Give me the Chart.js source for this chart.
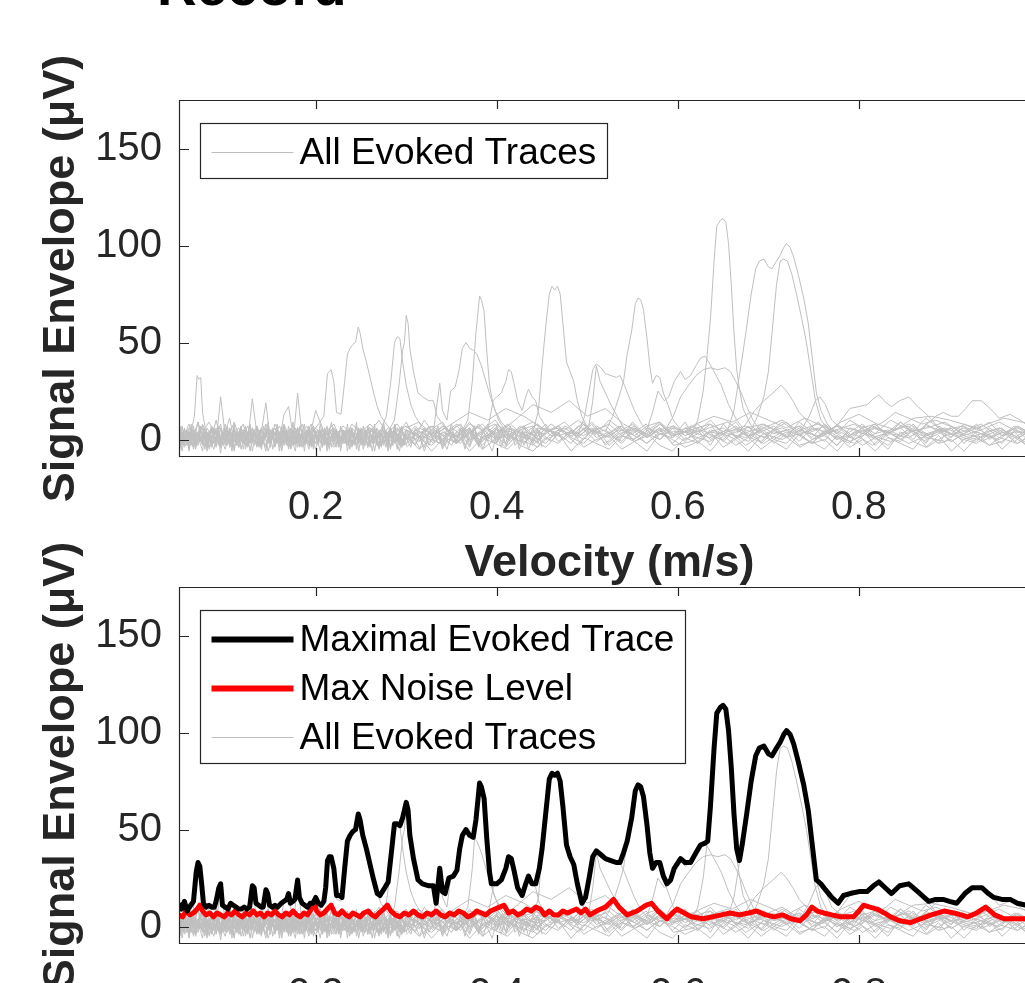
<!DOCTYPE html>
<html><head><meta charset="utf-8">
<script src="https://cdn.jsdelivr.net/npm/chart.js@4.4.1/dist/chart.umd.min.js"></script>
<style>
html,body{margin:0;padding:0;background:#fff;overflow:hidden;}
#wrap{position:relative;width:1025px;height:983px;overflow:hidden;background:#fff;}
#title{position:absolute;left:157px;top:-41px;font:bold 55px 'Liberation Sans',Arial,sans-serif;line-height:55px;color:#000;white-space:nowrap;}
canvas{position:absolute;left:0;}
#c1{top:0;}
#c2{top:487px;}
</style></head><body>
<div id="wrap">
<canvas id="c1" width="1060" height="600"></canvas>
<canvas id="c2" width="1060" height="600"></canvas>
<div id="title">Record</div>
</div>
<script>
// ---------- axes / labels ----------
const xTicks = [0.2, 0.4, 0.6, 0.8];
const yTicks = [0, 50, 100, 150];
const xRange = [0.049, 1.0];
const yRange = [-9, 175];
const xTitle = 'Velocity (m/s)';
const yTitle = 'Signal Envelope (μV)';
const legendTop = ['All Evoked Traces'];
const legendBottom = ['Maximal Evoked Trace', 'Max Noise Level', 'All Evoked Traces'];

// ---------- noise traces, full range (shared velocity samples) ----------
const noiseVel = [
0.050,0.055,0.060,0.065,0.070,0.075,0.080,0.085,0.090,0.095,0.100,0.105,0.110,0.115,0.120,0.125,0.130,0.135,0.140,0.145,0.150,0.155,0.160,0.165,0.170,0.175,0.180,0.185,0.190,0.195,0.200,
0.21,0.22,0.23,0.24,0.25,0.26,0.27,0.28,0.29,0.30,0.31,0.32,0.33,0.34,0.35,0.36,0.37,0.38,0.39,0.40,
0.415,0.43,0.445,0.46,0.475,0.49,0.505,0.52,0.535,0.55,0.565,0.58,0.595,
0.615,0.635,0.655,0.675,0.695,0.715,0.735,0.755,0.775,0.795,0.815,0.835,0.855,0.875,0.895,0.915,0.935,0.955,0.975,0.995];
const noise1 = [3,-2,6,1,-3,4,0,7,-1,22,2,-2,5,0,3,-4,6,1,-1,8,0,4,-2,5,1,-3,6,0,3,-1,4,
2,6,1,-2,4,8,3,0,5,2,7,1,4,-1,6,3,9,2,5,1,
6,3,8,2,5,10,4,7,1,6,3,8,2,
5,8,3,1,6,10,4,2,7,5,1,4,8,3,6,2,5,9,4,3];
const noise2 = [-1,5,2,-4,3,7,-2,4,1,-3,6,2,-1,4,8,0,21,3,-2,2,5,-3,1,6,0,4,-2,3,7,1,-2,
4,0,7,3,-2,5,1,6,2,9,0,4,7,2,-3,5,1,8,3,0,
3,7,0,5,9,2,6,-2,4,8,1,5,7,
2,-1,4,7,3,0,5,8,2,-2,6,3,1,7,4,0,3,6,1,5];
const noise3 = [7,0,4,2,9,1,-2,5,3,0,8,-1,3,6,-2,2,5,0,4,19,-1,3,7,1,-3,5,2,8,0,4,6,
1,-4,3,6,0,4,10,2,-1,5,3,0,6,9,2,-2,4,7,1,6,
-1,4,2,8,3,-3,5,2,7,0,4,9,3,
7,3,-2,5,1,9,3,6,-3,4,2,10,5,1,-1,6,3,0,7,2];
const noise4 = [1,3,-3,5,2,-1,6,1,10,0,-2,5,1,-4,2,7,0,3,-2,4,2,6,0,13,17,2,-1,4,2,8,1,
5,2,-1,8,3,6,1,-2,4,7,2,10,3,0,5,8,-1,3,6,2,
8,2,5,-1,7,3,9,1,5,3,8,0,6,
3,6,9,2,-2,4,7,1,5,8,2,-1,4,6,9,3,1,5,-2,4];
const noise5 = [-3,2,8,0,4,-2,3,-4,6,2,4,11,-1,3,5,-3,2,7,1,-4,5,-1,3,8,2,-2,24,1,5,-3,3,
-2,3,5,-1,2,6,-3,4,8,1,-2,5,2,7,3,1,6,-2,4,8,
2,-2,6,4,0,7,3,5,-1,9,2,6,-3,
-1,4,2,6,8,3,-4,2,5,0,7,3,-2,2,5,7,-1,3,6,1];
const noise6 = [5,-4,1,3,-1,8,2,-3,4,1,-5,3,9,2,-2,4,1,-3,6,2,-2,8,3,-1,4,1,6,-2,2,5,15,
3,8,-2,1,5,3,-4,2,6,0,5,3,-2,4,1,6,3,-3,2,5,
4,1,-4,3,6,1,8,-3,3,5,-2,3,4,
4,1,5,-3,3,6,2,9,0,3,-3,5,7,-4,2,4,8,1,-2,3];

// ---------- noise traces, slow part (dense samples) ----------
const noiseVelL = [
0.05,0.0525,0.055,0.0575,0.06,0.0625,0.065,0.0675,0.07,0.0725,
0.075,0.0775,0.08,0.0825,0.085,0.0875,0.09,0.0925,0.095,0.0975,
0.1,0.1025,0.105,0.1075,0.11,0.1125,0.115,0.1175,0.12,0.1225,
0.125,0.1275,0.13,0.1325,0.135,0.1375,0.14,0.1425,0.145,0.1475,
0.15,0.1525,0.155,0.1575,0.16,0.1625,0.165,0.1675,0.17,0.1725,
0.175,0.1775,0.18,0.1825,0.185,0.1875,0.19,0.1925,0.195,0.1975,
0.2,0.2025,0.205,0.2075,0.21,0.2125,0.215,0.2175,0.22,0.2225,
0.225,0.2275,0.23,0.2325,0.235,0.2375,0.24,0.2425,0.245,0.2475,
0.25,0.2525,0.255,0.2575,0.26,0.2625,0.265,0.2675,0.27,0.2725,
0.275,0.2775,0.28,0.2825,0.285,0.2875,0.29,0.2925,0.295,0.2975,
0.3];
const slow1 = [2,-3,5,0,-2,6,1,-4,3,7,-1,4,-3,2,6,-2,1,5,-4,3,0,7,-2,2,-5,4,1,6,-1,3,-3,5,2,-2,7,0,-4,3,1,6,-2,4,-1,5,2,-3,6,0,3,-4,5,1,-2,7,2,-1,4,-3,6,1,-2,3,5,-4,2,7,0,-1,4,2,-3,6,1,-2,5,3,-4,2,7,-1,4,0,-3,6,2,-2,5,1,-4,3,7,-1,2,5,-3,4,1,-2,6,0,3];
const slow2 = [-4,1,6,-2,3,0,5,-3,2,-1,6,1,-4,3,5,-2,0,7,-3,2,4,-1,3,-4,6,2,-2,5,0,-3,4,7,-1,2,-3,5,1,-2,6,3,-4,2,0,5,-2,3,7,-1,-4,4,1,-3,6,0,3,-2,5,2,-4,7,1,-2,4,0,6,-3,2,5,-1,3,0,-4,5,2,-2,6,1,3,-3,4,-1,7,2,-3,4,0,-2,6,3,-4,2,5,-1,3,-3,6,0,4,-2,1,5];
const slow3 = [1,4,-1,3,-5,2,7,0,-2,5,2,-3,4,0,-1,6,3,-2,1,4,-3,2,6,1,-1,3,-4,5,2,7,0,-2,4,-3,3,1,6,-1,-3,2,5,0,-2,6,-4,1,3,-1,7,2,-3,4,0,-1,5,-3,2,6,1,-2,4,-3,1,6,-2,0,3,-4,5,1,2,-2,4,0,-3,1,6,-2,0,3,5,-2,1,-4,3,6,0,2,-3,5,-2,1,4,-4,2,7,-1,3,1,-3,2];
const slow4 = [6,-1,2,-3,4,1,-5,3,0,6,-2,3,1,-4,2,5,-1,0,6,-3,2,-1,4,0,7,-3,2,-1,5,1,-2,0,6,3,-4,2,-1,4,0,-2,3,6,-3,1,4,-2,0,5,-1,3,-2,6,1,-4,0,3,-1,7,-2,2,5,-1,3,-2,0,4,-3,1,6,-2,3,1,-1,5,0,-3,4,-2,1,6,-3,2,5,0,-2,3,-1,4,1,-3,5,0,-4,2,4,-2,3,-3,6,1,-1];
const slow5 = [-2,3,0,4,1,-3,2,5,-1,0,3,-5,2,4,-2,1,5,-3,0,2,-1,4,1,-3,3,0,-2,2,4,-5,1,3,-1,5,0,-3,2,-1,4,1,-2,5,3,-1,0,-3,4,2,-2,6,0,-1,3,-3,5,1,-2,4,0,-3,2,5,-2,1,3,-4,6,2,-1,0,4,-2,3,1,-1,5,-3,0,2,6,1,-3,4,2,-1,0,5,-2,3,-1,0,4,-3,6,1,-2,3,0,-4,2,4];
const slow6 = [-5,1,-3,4,-6,0,3,-4,2,-2,-6,3,-1,-5,1,4,-3,0,-7,2,-2,5,-4,0,-6,2,-1,3,-5,1,-3,4,-6,0,2,-4,5,-2,-6,1,3,-5,0,-2,4,-6,1,-3,2,-5,0,4,-4,-1,2,-6,3,-2,0,-5,4,-1,-6,2,-3,1,-5,3,0,-4,2,-6,1,-2,4,-5,0,-3,3,-6,1,-2,5,-4,0,-6,2,-1,-5,3,-3,0,-6,4,-2,1,-5,2,-4,0,-3];
const slow7 = [1,-6,2,-2,-4,5,-1,-5,3,0,-3,2,-6,4,-2,-5,1,3,-4,-1,5,-3,0,-6,3,-2,4,-5,0,-3,2,-6,1,4,-3,-1,-5,2,0,-6,-2,3,-4,1,-6,2,-3,5,-5,0,-2,-6,3,1,-4,2,-1,-5,4,-2,-5,1,0,-4,4,-6,-1,2,-3,5,-4,0,-2,3,-6,1,-3,4,-5,-1,2,-5,-1,3,-4,2,-6,0,4,-3,1,-4,2,-5,0,3,-2,-6,1,-3,2];
const slow8 = [3,7,-2,5,0,8,-3,4,9,1,-2,6,3,-1,7,2,-4,5,8,0,4,-2,6,1,8,-3,3,7,-1,5,2,8,-2,4,6,0,-3,7,3,9,-1,5,2,8,-2,4,7,-1,5,2,9,-3,6,1,4,8,-2,5,0,7,3,-1,8,2,6,-3,4,9,1,5,-2,7,3,0,8,-1,5,2,9,-2,6,3,-1,7,4,0,8,-3,5,2,9,1,-2,6,3,8,-1,4,7,0,5];

// ---------- noise traces, middle part ----------
const noiseVelM = [0.3,0.305,0.31,0.315,0.32,0.325,0.33,0.335,0.34,0.345,0.35,0.355,0.36,0.365,0.37,0.375,0.38,0.385,0.39,0.395,0.4,0.405,0.41,0.415,0.42,0.425,0.43,0.435,0.44,0.445,0.45];
const mid1 = [3,-2,6,1,-4,4,0,7,-3,2,5,-1,3,-5,6,1,-2,4,8,-1,2,-4,5,0,3,-3,7,1,-2,4,0];
const mid2 = [-3,5,0,-5,3,7,-1,2,-4,6,0,-2,5,-3,1,7,-4,2,0,5,-2,6,-3,1,4,-5,2,0,6,-1,3];
const mid3 = [1,-4,4,-1,6,-3,2,5,-5,0,8,-2,1,4,-3,6,0,-5,3,1,7,-2,-4,3,0,5,-3,2,-1,6,-4];
const mid4 = [5,0,-3,2,-6,1,4,-2,0,-5,3,-1,6,0,-4,2,-3,5,-1,-6,3,1,-2,7,-3,0,4,-5,1,-2,2];

// ---------- noise traces, fast part ----------
const noiseVelR = [
0.3,0.314,0.328,0.342,0.356,0.37,0.384,0.398,0.412,0.426,
0.44,0.454,0.468,0.482,0.496,0.51,0.524,0.538,0.552,0.566,
0.58,0.594,0.608,0.622,0.636,0.65,0.664,0.678,0.692,0.706,
0.72,0.734,0.748,0.762,0.776,0.79,0.804,0.818,0.832,0.846,
0.86,0.874,0.888,0.902,0.916,0.93,0.944,0.958,0.972,0.986,
1.0];
const fast1 = [3,-1,5,2,7,0,4,-2,6,3,1,8,-1,4,2,6,-3,3,7,1,5,-2,4,8,2,0,6,3,-1,5,9,2,-2,4,7,1,5,-3,3,6,0,8,4,-1,3,6,2,-2,5,3,1];
const fast2 = [-2,4,1,6,-1,3,8,2,-3,5,7,0,3,-2,6,4,1,7,-1,2,8,3,-1,6,0,4,9,1,5,-2,3,7,0,2,-3,6,4,8,1,-1,5,3,-2,7,2,0,4,6,-1,4,2];
const fast3 = [5,1,-3,3,8,4,-1,6,0,7,2,-2,5,3,9,1,4,-1,6,3,0,7,2,5,-3,8,1,4,6,0,-2,5,3,-1,8,2,6,0,4,9,3,-1,5,1,7,3,-3,2,6,0,4];
const fast4 = [1,6,3,-2,4,0,5,8,2,-1,4,3,7,1,-2,5,8,2,0,6,3,1,9,-2,4,6,2,-1,7,3,5,-1,6,4,1,-2,7,3,5,2,8,0,3,6,-2,4,1,5,2,-2,3];
const fast5 = [7,2,0,4,-2,5,1,3,8,0,-3,4,6,2,5,-1,3,7,2,-2,4,6,0,3,8,-1,5,2,4,7,1,3,-2,5,0,4,8,1,-3,3,6,2,5,-1,3,8,0,4,1,5,-1];
const fast6 = [0,3,7,-1,2,6,-3,4,1,5,-1,6,2,4,0,7,3,-2,5,1,6,2,4,-1,5,3,0,7,-2,4,2,6,1,8,3,-1,2,6,4,0,5,-2,7,3,1,-1,6,2,4,3,0];
const fast7 = [-4,2,-6,1,-2,4,-5,0,3,-3,-6,1,-2,5,-4,0,2,-5,-1,3,-3,-6,1,-2,4,-4,0,-6,2,-1,-5,3,-2,0,-6,2,-3,1,-5,4,-1,-4,2,-6,0,-2,3,-5,1,-3,0];
const fast8 = [2,-5,0,-3,3,-6,1,-2,-5,2,0,-4,3,-6,1,-2,-5,2,-1,-6,3,0,-4,-1,-6,2,-3,1,-5,0,4,-3,-1,-5,2,-4,0,-6,1,-2,-5,3,-2,0,-6,1,-3,-1,4,-4,-2];
const fast9 = [6,9,3,7,1,8,5,10,2,6,9,4,7,1,8,3,10,5,2,7,9,1,6,4,10,3,7,2,8,5,1,9,4,7,3,10,6,8,2,9,4,11,6,3,8,5,9,2,7,4,6];

// ---------- evoked traces [velocity, envelope] ----------
const evt1 = [[0.05,2],[0.058,5],[0.062,3],[0.066,12],[0.069,33],[0.071,31],[0.073,32],[0.075,14],[0.078,6],[0.082,9],[0.088,4],[0.095,6],[0.10,2]];
const evt2 = [[0.195,3],[0.203,8],[0.209,12],[0.213,34],[0.217,36],[0.220,30],[0.223,14],[0.228,13],[0.232,30],[0.235,44],[0.238,47],[0.241,49],[0.244,50],[0.247,58],[0.249,55],[0.252,47],[0.256,40],[0.260,32],[0.264,24],[0.268,17],[0.272,12],[0.278,8],[0.285,4],[0.295,6],[0.31,2]];
const evt3 = [[0.27,3],[0.278,12],[0.283,30],[0.287,50],[0.290,53],[0.293,52],[0.296,40],[0.300,28],[0.305,18],[0.310,12],[0.318,6],[0.33,2]];
const evt4 = [[0.28,4],[0.287,10],[0.292,28],[0.296,46],[0.298,50],[0.300,64],[0.302,60],[0.304,47],[0.308,35],[0.313,24],[0.318,22],[0.325,20],[0.330,20],[0.334,12],[0.340,8],[0.35,3]];
const evt5 = [[0.33,4],[0.337,29],[0.340,15],[0.345,10],[0.349,25],[0.354,27],[0.358,35],[0.362,47],[0.366,50],[0.370,47],[0.374,46],[0.378,44],[0.383,38],[0.388,30],[0.393,22],[0.398,15],[0.405,9],[0.415,4]];
const evt6 = [[0.36,3],[0.368,10],[0.373,30],[0.377,55],[0.381,74],[0.383,72],[0.386,66],[0.389,45],[0.392,28],[0.396,18],[0.402,10],[0.41,4]];
const evt7 = [[0.39,5],[0.396,20],[0.400,22],[0.405,24],[0.410,30],[0.413,36],[0.416,35],[0.419,29],[0.423,20],[0.428,15],[0.432,22],[0.435,26],[0.439,22],[0.443,20],[0.447,12],[0.455,6],[0.465,2]];
const evt8 = [[0.44,4],[0.446,15],[0.450,38],[0.454,58],[0.458,75],[0.461,79],[0.464,77],[0.467,79],[0.470,75],[0.473,60],[0.477,40],[0.481,35],[0.485,30],[0.489,20],[0.494,12],[0.50,6],[0.51,2]];
const evt9 = [[0.49,3],[0.497,12],[0.502,25],[0.506,36],[0.510,39],[0.515,37],[0.520,34],[0.526,33],[0.532,32],[0.536,33],[0.541,28],[0.546,22],[0.552,15],[0.56,8],[0.57,3]];
const evt10 = [[0.50,2],[0.506,20],[0.510,38],[0.514,30],[0.520,24],[0.526,18],[0.533,12],[0.54,6]];
const evt11 = [[0.52,4],[0.528,12],[0.535,22],[0.540,30],[0.544,44],[0.549,56],[0.553,70],[0.556,73],[0.559,72],[0.562,67],[0.566,52],[0.569,38],[0.572,29],[0.576,33],[0.580,32],[0.584,24],[0.589,18],[0.595,10],[0.605,4]];
const evt12 = [[0.565,4],[0.572,14],[0.578,25],[0.585,20],[0.590,22],[0.596,30],[0.603,35],[0.608,31],[0.614,33],[0.620,38],[0.625,42],[0.630,43],[0.634,40],[0.640,35],[0.648,28],[0.656,18],[0.665,10],[0.675,4]];
const evt13 = [[0.615,3],[0.622,10],[0.628,25],[0.632,42],[0.636,62],[0.640,92],[0.643,110],[0.647,113],[0.650,114],[0.653,112],[0.656,101],[0.659,80],[0.662,55],[0.665,36],[0.668,26],[0.672,16],[0.68,8],[0.69,3]];
const evt14 = [[0.655,5],[0.662,15],[0.667,30],[0.671,42],[0.676,58],[0.681,75],[0.686,88],[0.690,92],[0.695,93],[0.700,89],[0.704,88],[0.709,92],[0.713,95],[0.717,99],[0.720,101],[0.724,99],[0.728,94],[0.733,85],[0.739,73],[0.744,60],[0.749,40],[0.753,24],[0.758,15],[0.765,8],[0.775,3]];
const evt15 = [[0.68,4],[0.688,12],[0.695,22],[0.700,35],[0.705,60],[0.709,80],[0.713,92],[0.717,93],[0.721,92],[0.726,85],[0.731,75],[0.737,62],[0.742,50],[0.747,35],[0.752,20],[0.758,10],[0.77,3]];
const evt16 = [[0.585,4],[0.595,12],[0.603,22],[0.612,28],[0.620,33],[0.628,36],[0.636,37],[0.644,36],[0.652,37],[0.658,35],[0.664,30],[0.670,24],[0.676,17],[0.683,10],[0.692,4]];
const evt17 = [[0.665,3],[0.675,8],[0.685,15],[0.695,20],[0.705,24],[0.714,28],[0.720,25],[0.727,20],[0.734,14],[0.742,10],[0.750,6],[0.76,2]];
const evt18 = [[0.735,4],[0.745,12],[0.752,20],[0.757,22],[0.763,18],[0.770,10],[0.780,6],[0.79,3]];
const evt19 = [[0.765,3],[0.777,8],[0.790,16],[0.800,17],[0.809,18],[0.816,21],[0.822,23],[0.830,19],[0.836,17],[0.845,20],[0.855,22],[0.865,17],[0.877,12],[0.888,6],[0.90,3]];
const evt20 = [[0.86,2],[0.875,8],[0.885,12],[0.893,14],[0.902,12],[0.910,12],[0.918,16],[0.925,20],[0.935,20],[0.945,16],[0.955,11],[0.967,13],[0.978,10],[0.99,6],[1.0,5]];
const evt21 = [[0.80,2],[0.815,6],[0.83,10],[0.84,14],[0.85,12],[0.87,8],[0.885,10],[0.90,7],[0.92,4]];
const evt22 = [[0.40,3],[0.42,10],[0.44,18],[0.46,14],[0.48,20],[0.50,12],[0.52,16],[0.54,8],[0.56,3]];
const evt23 = [[0.33,2],[0.35,8],[0.37,14],[0.39,10],[0.41,16],[0.43,12],[0.45,6],[0.47,3]];
const evt24 = [[0.60,2],[0.62,8],[0.64,12],[0.66,9],[0.68,14],[0.70,10],[0.72,6],[0.74,11],[0.76,7],[0.78,3]];
const evt25 = [[0.76,2],[0.78,9],[0.80,13],[0.82,8],[0.84,5],[0.86,11],[0.88,12],[0.90,10],[0.93,6],[0.96,11],[0.98,9],[1.0,7]];

// ---------- maximal evoked trace ----------
const maxTrace = [[0.049,12],[0.052,9],[0.055,13],[0.058,8],[0.062,11],[0.065,13],[0.068,28],[0.070,33],[0.072,31],[0.074,22],[0.076,12],[0.079,10],[0.082,11],[0.085,10],[0.088,10],[0.090,13],[0.093,20],[0.095,22],[0.097,11],[0.100,10],[0.103,9],[0.106,12],[0.109,11],[0.112,10],[0.115,9],[0.118,9],[0.121,10],[0.124,9],[0.127,10],[0.130,21],[0.132,20],[0.134,12],[0.137,11],[0.140,10],[0.142,10],[0.145,19],[0.147,17],[0.149,11],[0.152,10],[0.155,11],[0.158,10],[0.162,12],[0.165,13],[0.168,14],[0.170,17],[0.172,12],[0.175,13],[0.177,14],[0.180,24],[0.182,15],[0.185,12],[0.188,11],[0.191,10],[0.194,12],[0.197,12],[0.200,15],[0.203,12],[0.206,11],[0.209,13],[0.211,20],[0.213,34],[0.215,36],[0.217,36],[0.220,30],[0.223,16],[0.226,16],[0.229,15],[0.232,30],[0.235,44],[0.238,47],[0.241,49],[0.244,50],[0.247,58],[0.249,55],[0.252,47],[0.256,40],[0.260,32],[0.264,24],[0.268,17],[0.271,16],[0.275,19],[0.280,23],[0.284,40],[0.287,53],[0.290,53],[0.293,52],[0.296,56],[0.298,60],[0.300,64],[0.302,60],[0.304,47],[0.308,35],[0.313,24],[0.318,22],[0.325,21],[0.330,21],[0.333,12],[0.337,30],[0.340,18],[0.343,17],[0.347,25],[0.352,26],[0.356,29],[0.359,40],[0.362,47],[0.366,50],[0.370,47],[0.374,46],[0.377,55],[0.381,74],[0.383,72],[0.386,66],[0.389,45],[0.392,28],[0.394,22],[0.400,22],[0.405,24],[0.410,30],[0.413,36],[0.416,35],[0.419,29],[0.423,20],[0.428,16],[0.432,22],[0.435,26],[0.439,22],[0.443,22],[0.447,30],[0.450,40],[0.454,58],[0.458,76],[0.461,79],[0.464,78],[0.467,79],[0.470,75],[0.473,62],[0.477,42],[0.481,36],[0.485,32],[0.489,22],[0.494,12],[0.498,15],[0.502,25],[0.506,36],[0.510,39],[0.515,37],[0.520,35],[0.526,34],[0.532,33],[0.536,33],[0.540,38],[0.544,44],[0.549,56],[0.553,70],[0.556,73],[0.559,72],[0.562,67],[0.566,52],[0.569,38],[0.572,30],[0.576,33],[0.580,33],[0.584,26],[0.588,22],[0.592,24],[0.596,30],[0.603,35],[0.608,33],[0.614,33],[0.620,38],[0.625,42],[0.630,43],[0.633,44],[0.636,62],[0.640,92],[0.643,110],[0.647,113],[0.650,114],[0.653,112],[0.656,101],[0.659,82],[0.662,58],[0.665,40],[0.668,34],[0.671,42],[0.676,58],[0.681,75],[0.686,88],[0.690,92],[0.695,93],[0.700,89],[0.704,88],[0.709,92],[0.713,95],[0.717,99],[0.720,101],[0.724,99],[0.728,94],[0.733,85],[0.739,73],[0.744,60],[0.749,40],[0.753,24],[0.758,22],[0.763,19],[0.770,15],[0.777,12],[0.783,16],[0.790,17],[0.800,18],[0.809,18],[0.816,21],[0.822,23],[0.829,20],[0.836,17],[0.845,21],[0.855,22],[0.865,18],[0.877,13],[0.885,14],[0.893,14],[0.900,13],[0.908,12],[0.917,17],[0.925,20],[0.936,20],[0.943,17],[0.949,15],[0.958,14],[0.967,14],[0.975,12],[0.985,11],[1.0,10]];

// ---------- max noise level ----------
const noiseLevel = [[0.049,6],[0.053,5],[0.057,8],[0.061,6],[0.065,7],[0.069,9],[0.072,11],[0.075,8],[0.079,6],[0.083,7],[0.087,5],[0.091,7],[0.095,6],[0.099,5],[0.103,7],[0.107,6],[0.111,8],[0.115,6],[0.119,5],[0.123,7],[0.127,6],[0.131,8],[0.135,6],[0.139,7],[0.143,5],[0.147,7],[0.151,6],[0.155,8],[0.159,6],[0.163,5],[0.167,7],[0.171,6],[0.175,8],[0.179,6],[0.183,5],[0.187,7],[0.191,6],[0.195,9],[0.198,13],[0.201,8],[0.205,6],[0.209,7],[0.213,9],[0.217,11],[0.221,7],[0.225,6],[0.229,8],[0.233,6],[0.237,5],[0.241,7],[0.245,6],[0.249,5],[0.253,7],[0.258,8],[0.262,6],[0.266,5],[0.270,7],[0.275,9],[0.279,11],[0.283,8],[0.288,6],[0.293,5],[0.298,7],[0.303,6],[0.308,8],[0.313,6],[0.318,5],[0.323,7],[0.328,6],[0.333,8],[0.338,6],[0.343,5],[0.348,7],[0.353,6],[0.358,8],[0.363,7],[0.368,5],[0.373,6],[0.378,8],[0.383,7],[0.388,6],[0.393,8],[0.398,9],[0.403,10],[0.408,11],[0.413,7],[0.418,8],[0.423,6],[0.428,7],[0.433,9],[0.438,8],[0.443,10],[0.448,9],[0.453,6],[0.458,8],[0.463,6],[0.468,6],[0.473,8],[0.478,7],[0.483,8],[0.488,9],[0.493,7],[0.498,9],
[0.503,6],[0.510,8],[0.520,10],[0.529,14],[0.535,10],[0.544,6],[0.555,8],[0.565,11],[0.571,12],[0.578,8],[0.588,4],[0.594,7],[0.599,9],[0.607,7],[0.615,5],[0.628,4],[0.638,5],[0.648,6],[0.658,7],[0.668,6],[0.678,7],[0.687,8],[0.697,6],[0.706,5],[0.716,6],[0.725,4],[0.735,3],[0.742,6],[0.748,10],[0.754,8],[0.761,7],[0.770,6],[0.780,5],[0.794,5],[0.800,8],[0.805,11],[0.812,10],[0.820,9],[0.828,7],[0.835,5],[0.845,3],[0.857,2],[0.868,4],[0.880,6],[0.894,8],[0.905,7],[0.920,5],[0.930,7],[0.940,10],[0.950,6],[0.960,4],[0.970,4],[0.982,4],[1.0,4]];

// ---------- rendering ----------
const FONT = "'Liberation Sans', Arial, Helvetica, sans-serif";
const AXC = '#262626';
const GRAY = 'rgb(191,191,191)';
const BLACK = '#000000';
const RED = '#ff0000';

const gridSets = [
  [noiseVel, [noise1, noise2, noise3, noise4, noise5, noise6]],
  [noiseVelL, [slow1, slow2, slow3, slow4, slow5, slow6, slow7, slow8]],
  [noiseVelM, [mid1, mid2, mid3, mid4]],
  [noiseVelR, [fast1, fast2, fast3, fast4, fast5, fast6, fast7, fast8, fast9]]
];
const eventSets = [evt1,evt2,evt3,evt4,evt5,evt6,evt7,evt8,evt9,evt10,evt11,evt12,evt13,evt14,evt15,evt16,evt17,evt18,evt19,evt20,evt21,evt22,evt23,evt24,evt25];

const toPts = arr => arr.map(p => ({x: p[0], y: p[1]}));
const onGrid = (xs, ys) => ys.map((y, i) => ({x: xs[i], y: y}));

function grayDatasets() {
  const out = [];
  gridSets.forEach(([xs, sets]) => sets.forEach(ys => out.push({data: onGrid(xs, ys), borderColor: GRAY, borderWidth: 1})));
  eventSets.forEach(e => out.push({data: toPts(e), borderColor: GRAY, borderWidth: 1}));
  return out;
}

const axesPlugin = {
  id: 'mAxes',
  afterDatasetsDraw(chart) {
    const {ctx, chartArea: a, scales: {x, y}} = chart;
    ctx.save();
    ctx.strokeStyle = AXC;
    ctx.lineWidth = 1.2;
    ctx.beginPath();
    ctx.rect(a.left + 0.5, a.top + 0.5, a.right - a.left - 1, a.bottom - a.top - 1);
    xTicks.forEach(v => {
      const px = Math.round(x.getPixelForValue(v)) + 0.5;
      ctx.moveTo(px, a.bottom); ctx.lineTo(px, a.bottom - 9);
      ctx.moveTo(px, a.top); ctx.lineTo(px, a.top + 9);
    });
    yTicks.forEach(v => {
      const py = Math.round(y.getPixelForValue(v)) + 0.5;
      ctx.moveTo(a.left, py); ctx.lineTo(a.left + 10, py);
      ctx.moveTo(a.right, py); ctx.lineTo(a.right - 10, py);
    });
    ctx.stroke();
    ctx.restore();
  }
};

const legendPlugin = {
  id: 'mLegend',
  afterDraw(chart, args, opts) {
    const items = opts.items;
    if (!items || !items.length) return;
    const {ctx, chartArea: a} = chart;
    ctx.save();
    ctx.font = '37px ' + FONT;
    const tw = Math.max(...items.map(it => ctx.measureText(it.label).width));
    const bx = Math.round(a.left + 21) + 0.5, by = Math.round(a.top + 23) + 0.5;
    const bw = Math.round(99 + tw + 11), bh = 55 + (items.length - 1) * 49;
    ctx.fillStyle = '#fff';
    ctx.fillRect(bx, by, bw, bh);
    ctx.strokeStyle = AXC; ctx.lineWidth = 1.2;
    ctx.strokeRect(bx, by, bw, bh);
    items.forEach((it, i) => {
      const cy = by + 29 + i * 49;
      ctx.strokeStyle = it.color; ctx.lineWidth = it.width; ctx.lineCap = 'butt';
      ctx.beginPath(); ctx.moveTo(bx + 11, cy); ctx.lineTo(bx + 93, cy); ctx.stroke();
      ctx.fillStyle = '#000'; ctx.textBaseline = 'middle'; ctx.textAlign = 'left';
      ctx.fillText(it.label, bx + 99, cy + 1);
    });
    ctx.restore();
  }
};

function makeChart(id, datasets, legendItems) {
  return new Chart(document.getElementById(id), {
    type: 'line',
    data: {datasets: datasets},
    options: {
      responsive: false, animation: false, devicePixelRatio: 1, parsing: false, normalized: true,
      events: [],
      layout: {padding: {left: 0, top: 100, right: 20, bottom: 0}},
      elements: {point: {radius: 0, hoverRadius: 0}, line: {tension: 0, borderJoinStyle: 'round', fill: false}},
      plugins: {legend: {display: false}, tooltip: {enabled: false}, title: {display: false},
                mLegend: {items: legendItems}},
      scales: {
        x: {
          type: 'linear', min: xRange[0], max: xRange[1],
          afterFit: s => { s.height = 143; },
          afterBuildTicks: s => { s.ticks = xTicks.map(v => ({value: v})); },
          grid: {display: false, drawTicks: false}, border: {display: false},
          ticks: {font: {family: FONT, size: 40}, color: AXC, padding: 27, maxRotation: 0, autoSkip: false,
                  callback: v => v.toFixed(1)},
          title: {display: true, text: xTitle, color: AXC, font: {family: FONT, size: 45, weight: 'bold'},
                  padding: {top: 0, bottom: 9}}
        },
        y: {
          type: 'linear', min: yRange[0], max: yRange[1],
          afterFit: s => { s.width = 179; },
          afterBuildTicks: s => { s.ticks = yTicks.map(v => ({value: v})); },
          grid: {display: false, drawTicks: false}, border: {display: false},
          ticks: {font: {family: FONT, size: 40}, color: AXC, padding: 17, autoSkip: false,
                  callback: v => String(v)},
          title: {display: true, text: yTitle, color: AXC, font: {family: FONT, size: 45, weight: 'bold'},
                  padding: {top: 35, bottom: 0}}
        }
      }
    },
    plugins: [axesPlugin, legendPlugin]
  });
}

makeChart('c1', grayDatasets(), [{label: legendTop[0], color: GRAY, width: 1}]);

makeChart('c2', [
  {data: toPts(maxTrace), borderColor: BLACK, borderWidth: 5},
  {data: toPts(noiseLevel), borderColor: RED, borderWidth: 5},
  ...grayDatasets()
], [
  {label: legendBottom[0], color: BLACK, width: 6},
  {label: legendBottom[1], color: RED, width: 6},
  {label: legendBottom[2], color: GRAY, width: 1}
]);
</script>
</body></html>
